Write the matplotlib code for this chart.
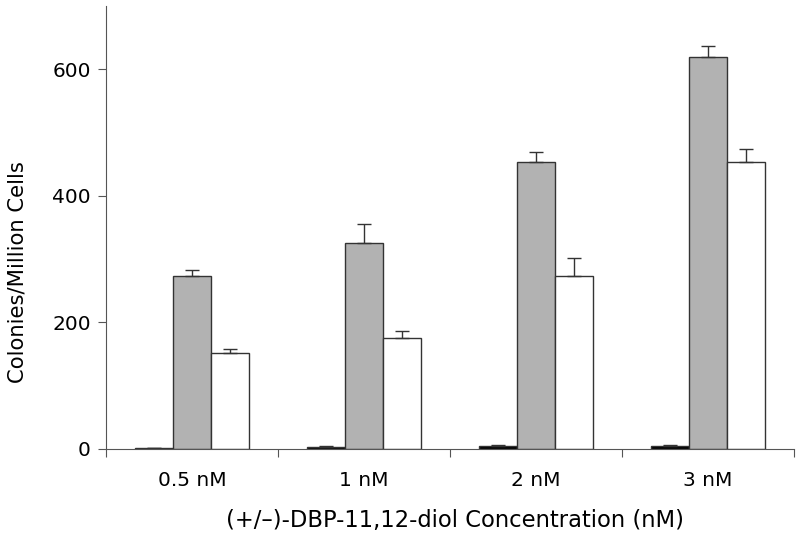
import numpy as np
import matplotlib.pyplot as plt

# data
groups = ['0.5 nM', '1 nM', '2 nM', '3 nM']
black_vals = [1, 3, 5, 5]
black_err = [1, 1, 1, 1]
gray_vals = [273, 326, 454, 619]
gray_err = [10, 29, 16, 18]
white_vals = [151, 175, 273, 454]
white_err = [7, 12, 29, 20]

plt.rcParams['font.family'] = 'DejaVu Sans'

fig = plt.figure(figsize=(8, 5.37), dpi=100)
ax = fig.add_axes([0.1325, 0.1639, 0.86, 0.825])

x = np.arange(len(groups))
w = 0.22
edge = '#333333'


def draw(pos, vals, err, color):
    zeros = [0] * len(err)
    ax.bar(pos, vals, w, color=color, edgecolor=edge, linewidth=1,
           yerr=[zeros, err], capsize=5,
           error_kw=dict(ecolor='#333333', elinewidth=1, capthick=1))


draw(x - w, black_vals, black_err, 'black')
draw(x, gray_vals, gray_err, '#b2b2b2')
draw(x + w, white_vals, white_err, 'white')

ax.set_xlim(-0.5, 3.5)
ax.set_ylim(0, 700)
ax.set_yticks([0, 200, 400, 600])

ax.set_xticks(np.arange(-0.5, 4, 1))
ax.set_xticklabels([])
ax.set_xticks(x, minor=True)
ax.set_xticklabels(groups, minor=True)
ax.tick_params(axis='x', which='minor', length=0, pad=16, labelsize=14.5)
ax.tick_params(axis='x', which='major', length=6, color='#555555')
ax.tick_params(axis='y', length=6, color='#555555', labelsize=14.5, pad=5)

for s in ['top', 'right']:
    ax.spines[s].set_visible(False)
for s in ['left', 'bottom']:
    ax.spines[s].set_color('#555555')

ax.set_ylabel('Colonies/Million Cells', fontsize=15.2, va='center')
ax.yaxis.set_label_coords(-0.128, 0.40)
ax.set_xlabel('(+/\u2013)-DBP-11,12-diol Concentration (nM)', fontsize=16.3, va='center')
ax.xaxis.set_label_coords(0.507, -0.1625)

fig.savefig('out.png')
